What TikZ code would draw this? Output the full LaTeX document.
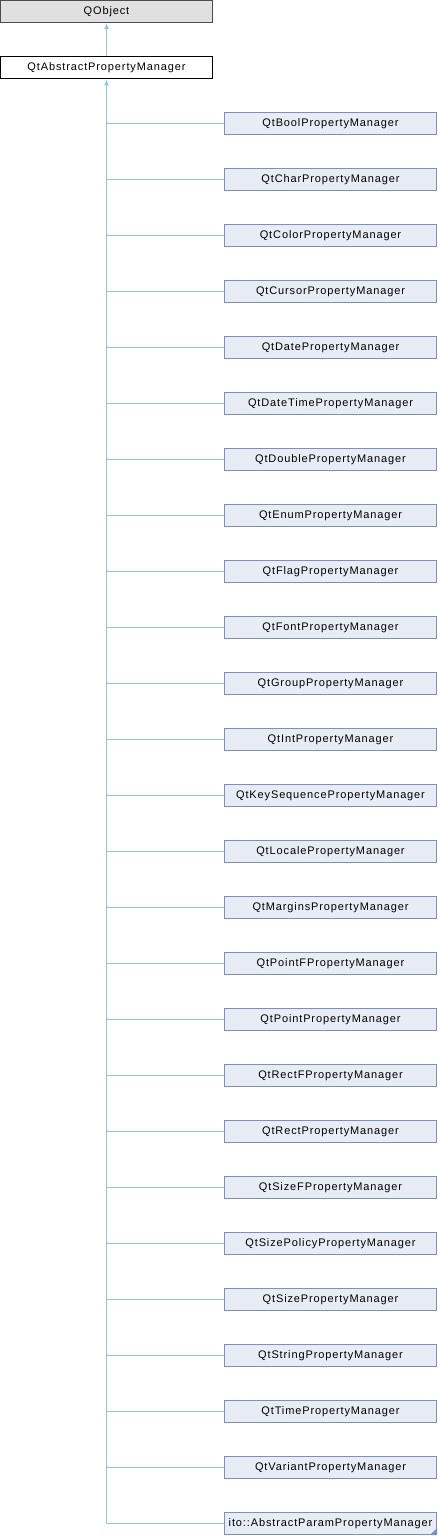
\documentclass[tikz,border=0pt]{standalone}
\usepackage{fontspec}
\setmainfont{Liberation Sans}[LetterSpace=8]
\usetikzlibrary{arrows.meta, positioning}

\definecolor{edgeblue}{HTML}{8FC6E6}
\definecolor{boxblue}{HTML}{E8ECF5}
\definecolor{lineblue}{HTML}{7A8FC7}
\definecolor{basegray}{HTML}{E0E0E0}

\begin{document}
\begin{tikzpicture}[x=1pt, y=-1pt,
  box/.style={rectangle, draw, line width=1pt, minimum width=212pt, minimum height=22pt,
    inner sep=0pt, font=\fontsize{11}{13}\selectfont},
  derived/.style={box, draw=lineblue, fill=boxblue},
  edge/.style={draw=edgeblue, line width=1pt},
  tip/.style={edge, -{Latex[length=6pt, width=5pt]}}]

  \useasboundingbox (0,0) rectangle (438,1536);

  \node[box, fill=basegray, draw=black!70] (qobj) at (106.5,11.5) {QObject};
  \node[box, fill=white] (abs) at (106.5,68) {QtAbstractPropertyManager};
  \draw[tip] (abs) -- (qobj);

  \foreach \name [count=\i] in {QtBoolPropertyManager, QtCharPropertyManager,
      QtColorPropertyManager, QtCursorPropertyManager, QtDatePropertyManager,
      QtDateTimePropertyManager, QtDoublePropertyManager, QtEnumPropertyManager,
      QtFlagPropertyManager, QtFontPropertyManager, QtGroupPropertyManager,
      QtIntPropertyManager, QtKeySequencePropertyManager, QtLocalePropertyManager,
      QtMarginsPropertyManager, QtPointFPropertyManager, QtPointPropertyManager,
      QtRectFPropertyManager, QtRectPropertyManager, QtSizeFPropertyManager,
      QtSizePolicyPropertyManager, QtSizePropertyManager, QtStringPropertyManager,
      QtTimePropertyManager, QtVariantPropertyManager,
      ito::AbstractParamPropertyManager}
  {
    \node[derived] (c\i) at (330.5,67.5+56*\i) {\name};
    \draw[edge] (c\i.west -| abs.south) -- (c\i.west);
  }

  % trunk up to the base class
  \draw[tip] (c26.west -| abs.south) -- (abs.south);

  % folded corner on the last class
  \fill[lineblue] (c26.south east) -- ++(0,-7) -- ++(-7,7) -- cycle;
\end{tikzpicture}
\end{document}
